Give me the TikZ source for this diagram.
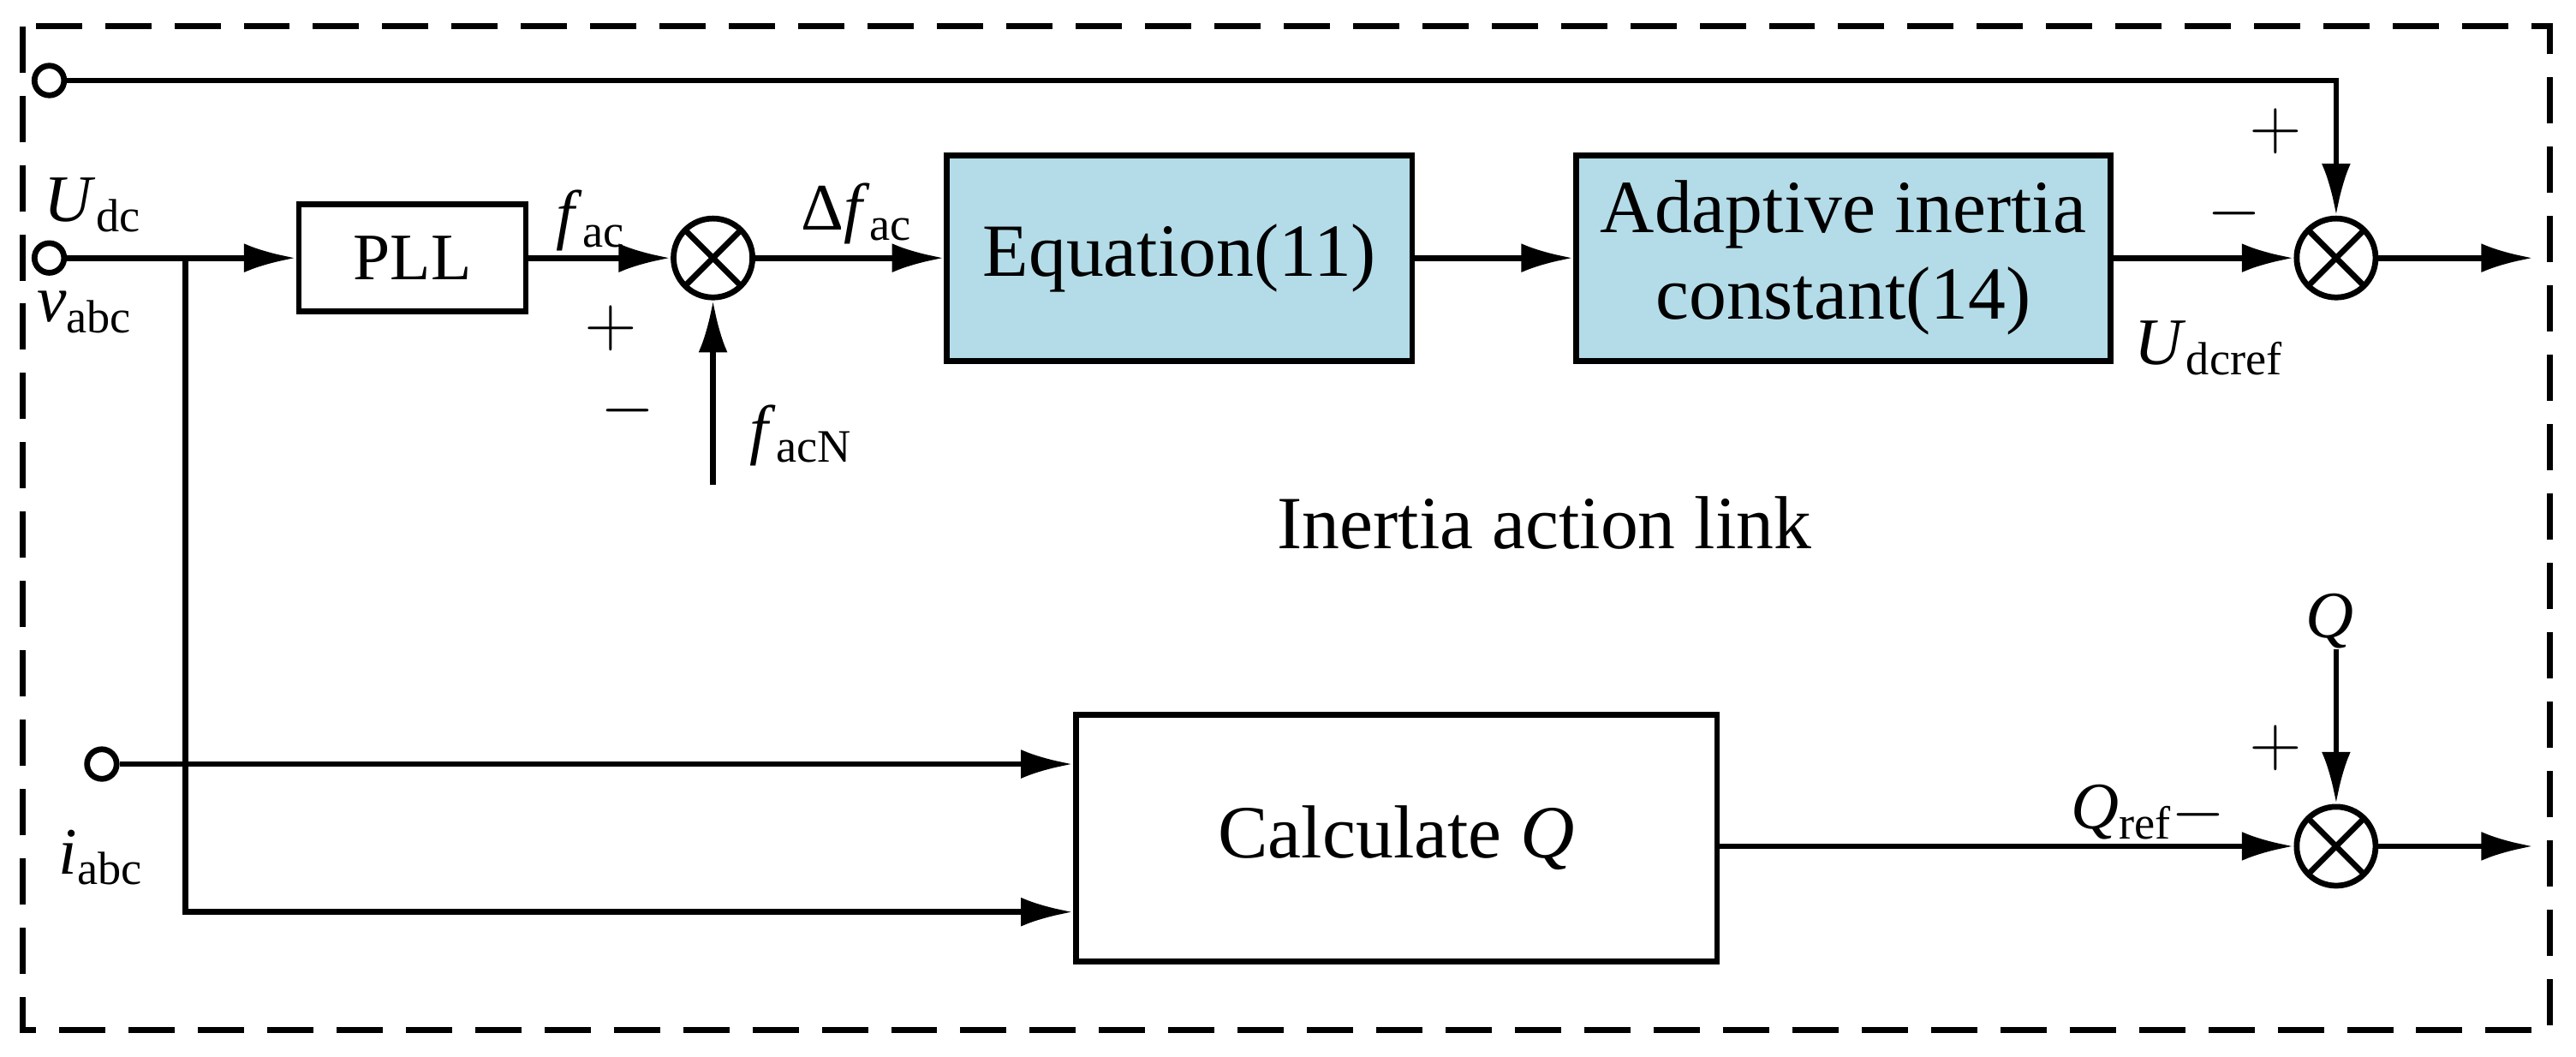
\documentclass[tikz,border=0pt]{standalone}
\usepackage{amsmath}
\usepackage{fontspec}
\setmainfont{Liberation Serif}
\usetikzlibrary{arrows.meta}
\newcommand{\lbl}[2]{\textit{#1}$_{\text{#2}}$}
\begin{document}
\begin{tikzpicture}[x=0.01cm,y=-0.01cm,
  line width=1pt,
  arr/.style={-{Latex[length=9pt,width=5pt]}},
  blk/.style={draw,line width=1pt,inner sep=0pt},
  sum/.style={draw,circle,minimum size=0.48cm,inner sep=0pt,path picture={\draw[line width=1pt] (path picture bounding box.north west)--(path picture bounding box.south east) (path picture bounding box.north east)--(path picture bounding box.south west);}},
  term/.style={draw,circle,minimum size=0.18cm,inner sep=0pt,fill=white},
  big/.style={font=\fontsize{13pt}{15pt}\selectfont},
  lab/.style={font=\fontsize{11.5pt}{14pt}\selectfont}]
\useasboundingbox (0,0) rectangle (1568,643);
\draw[dashed,line width=1pt,dash pattern=on 8pt off 4pt] (14,16) rectangle (1552,627);
% terminals
\node[term] (t1) at (30,49) {};
\node[term] (t2) at (30,157) {};
\node[term] (t3) at (62,465) {};
% blocks
\node[blk,minimum width=1.38cm,minimum height=0.65cm,lab] (pll) at (251,157) {PLL};
\node[blk,fill={rgb,255:red,180;green,220;blue,232},minimum width=2.83cm,minimum height=1.25cm,big] (eq) at (718,157) {Equation(11)};
\node[blk,fill={rgb,255:red,180;green,220;blue,232},minimum width=3.25cm,minimum height=1.25cm,big,align=center] (ad) at (1122,157) {Adaptive inertia\\constant(14)};
\node[blk,minimum width=3.9cm,minimum height=1.5cm,big] (cq) at (850,510) {Calculate \textit{Q}};
% sums
\node[sum] (s1) at (434,157) {};
\node[sum] (s2) at (1422,157) {};
\node[sum] (s3) at (1422,515) {};
\coordinate (j) at (113,157);
\coordinate (fn) at (434,295);
\coordinate (qin) at (1422,395);
\coordinate (o1) at (1542,157);
\coordinate (o2) at (1542,515);
% connectors
\draw[arr] (t1.east) -- (1422,49) -- (s2.north);
\draw[arr] (t2.east) -- (pll.west);
\draw[arr] (j) -- (113,555) -- (cq.west |- 0,555);
\draw[arr] (t3.east) -- (cq.west |- 0,465);
\draw[arr] (pll.east) -- (s1.west);
\draw[arr] (fn) -- (s1.south);
\draw[arr] (s1.east) -- (eq.west);
\draw[arr] (eq.east) -- (ad.west);
\draw[arr] (ad.east) -- (s2.west);
\draw[arr] (s2.east) -- (o1);
\draw[arr] (cq.east |- 0,515) -- (s3.west);
\draw[arr] (qin) -- (s3.north);
\draw[arr] (s3.east) -- (o2);
% labels
\node[lab] at (57,125) {\lbl{U}{dc}};
\node[lab] at (52,190) {\lbl{v}{abc}};
\node[lab] at (62,522) {\lbl{i}{abc}};
\node[lab] at (360,134) {\lbl{f}{ac}};
\node[lab] at (372,200) {$+$};
\node[lab] at (382,250) {$-$};
\node[lab] at (488,265) {\lbl{f}{acN}};
\node[lab] at (522,130) {Δ\lbl{f}{ac}};
\node[lab] at (1385,80) {$+$};
\node[lab] at (1360,130) {$-$};
\node[lab] at (1345,212) {\lbl{U}{dcref}};
\node[big] at (940,318) {Inertia action link};
\node[lab] at (1418,378) {\textit{Q}};
\node[lab] at (1385,455) {$+$};
\node[lab] at (1292,494) {\lbl{Q}{ref}};
\node[lab] at (1338,496) {$-$};
\end{tikzpicture}
\end{document}
